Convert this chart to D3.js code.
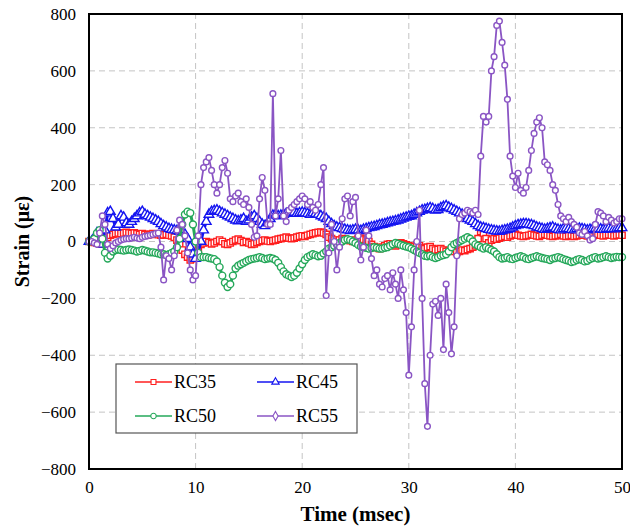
<!DOCTYPE html>
<html lang="en">
<head>
<meta charset="utf-8">
<script src="https://d3js.org/d3.v7.min.js"></script>
<style>
  body { margin: 0; background: #fff; }
  svg text { font-family: "Liberation Serif", "Times New Roman", Times, serif !important; fill: #000; }
</style>
</head>
<body>
<script>
// sampling times (msec), one reading every 0.25 ms
const time = d3.range(0, 50.001, 0.25);

const seriesNames = ["RC35", "RC45", "RC50", "RC55"];
const xTicks = [0, 10, 20, 30, 40, 50];
const yTicks = [-800, -600, -400, -200, 0, 200, 400, 600, 800];

// strain readings (micro-strain), 4 per msec
const rc35 = [
  0,0,-3,-5, -8,-5,5,15, 22,25,28,30, 28,30,32,30, 28,30,27,25,
  28,25,22,25, 28,26,24,22, 24,25,22,20, 15,5,-10,-30, -45,-55,-65,-60,
  -50,-30,-10,-5, 0,-3,-8,-5, 0,5,0,-8, -10,-5,0,5, 8,3,-3,0,
  -5,-10,-8,-3, 0,3,5,2, 0,3,5,8, 10,12,15,12, 10,12,15,18,
  20,18,22,25, 28,30,32,33, 30,25,15,10, 5,0,5,10, 8,5,3,0,
  5,10,12,8, 5,0,-10,-18, -22,-25,-20,-15, -10,-8,-12,-15, -10,-5,-8,-12,
  -15,-20,-18,-12, -15,-22,-25,-20, -18,-25,-30,-28, -25,-30,-35,-32, -30,-35,-38,-35,
  -30,-32,-28,-25, -20,-15,10,35, 30,10,-5,5, 10,8,12,15, 18,15,20,22,
  25,22,20,18, 20,22,25,22, 20,18,22,25, 22,20,18,20, 22,25,20,18,
  20,22,18,20, 22,25,22,20, 18,20,22,25, 22,20,22,24, 22,20,22,24,
  22
];
const rc45 = [
  0,0,5,30, 20,-10,40,100, 105,80,50,60, 90,85,65,60, 70,80,90,100,
  105,95,90,85, 80,75,70,62, 55,50,45,42, 40,38,35,30, 25,10,-20,-45,
  -60,-40,0,40, 70,95,105,108, 110,105,100,95, 90,85,80,75, 72,75,80,70,
  75,85,90,80, 70,60,55,65, 80,92,95,90, 92,95,98,100, 100,102,98,100,
  102,100,98,95, 100,98,95,90, 85,80,70,62, 55,50,48,45, 42,40,38,40,
  42,40,38,42, 45,48,50,52, 55,58,60,62, 65,68,70,72, 75,78,82,85,
  88,90,95,100, 105,110,112,115, 118,115,110,112, 118,122,125,120, 115,110,105,100,
  95,90,80,75, 70,62,55,50, 48,45,42,40, 38,36,35,38, 40,42,45,50,
  55,58,60,62, 62,60,58,55, 50,48,45,42, 45,48,50,45, 42,40,44,46,
  44,42,40,44, 46,44,42,40, 42,44,46,45, 43,42,44,46, 45,44,46,48,
  48
];
const rc50 = [
  0,2,10,30, 40,10,-40,-60, -50,-35,-30,-28, -30,-32,-30,-28, -30,-32,-35,-33,
  -30,-32,-35,-38, -38,-40,-42,-45, -45,-48,-45,-40, -35,-20,10,60, 95,105,100,60,
  0,-40,-55,-55, -55,-58,-60,-62, -70,-90,-120,-145, -160,-150,-120,-95, -85,-80,-75,-70,
  -65,-62,-60,-58, -55,-58,-62,-60, -58,-60,-65,-75, -90,-105,-115,-120, -125,-120,-110,-95,
  -80,-65,-55,-50, -45,-48,-52,-50, -42,-35,-25,-20, -15,-10,-5,0, 5,8,5,0,
  -5,-12,-18,-20, -22,-25,-23,-20, -22,-25,-25,-22, -20,-15,-10,-5, -8,-12,-15,-18,
  -20,-25,-30,-35, -40,-45,-50,-52, -50,-55,-58,-55, -50,-48,-45,-35, -20,-10,-5,0,
  5,10,15,10, 0,-10,-15,-20, -25,-20,-25,-30, -35,-45,-55,-60, -58,-55,-60,-62,
  -58,-55,-52,-55, -60,-62,-58,-55, -52,-55,-58,-60, -62,-65,-60,-58, -55,-58,-62,-65,
  -68,-72,-70,-65, -62,-65,-70,-68, -62,-58,-55,-60, -58,-55,-52,-55, -58,-56,-54,-55,
  -55
];
const rc55 = [
  0,0,-5,-10, 30,90,60,-10, -25,-15,-5,0, 5,8,10,10, 12,15,12,10,
  15,18,20,22, 25,28,30,-20, -135,-50,-60,-100, -50,40,75,60, 20,-40,-100,-135,
  -120,20,200,260, 280,295,250,200, 170,200,260,285, 240,150,140,160, 170,140,130,150,
  120,60,15,20, 150,225,180,60, 60,520,90,150, 320,90,70,110, 120,130,140,150,
  160,150,130,140, 120,110,130,200, 260,-190,-40,60, 0,-100,-20,80, 150,160,90,140,
  155,20,-65,-20, 40,20,-60,-120, -100,-150,-160,-130, -120,-170,-110,-150, -200,-100,-170,-250,
  -470,-300,-100,0, 110,-200,-500,-650, -400,-220,-210,-260, -200,-380,-150,-250, -395,-300,-50,80,
  95,100,110,105, 100,110,95,300, 440,420,440,600, 650,760,775,700, 620,500,300,230,
  190,240,180,170, 190,250,320,380, 420,435,400,280, 270,250,200,180, 130,90,80,70,
  85,70,60,50, 30,25,35,20, 5,10,60,105, 100,90,70,85, 75,65,70,80,
  80
];

const colors = ["#ff1f1f", "#1414f0", "#25a85a", "#8a55c4"];
const symbols = [d3.symbolSquare, d3.symbolTriangle, d3.symbolCircle, d3.symbolCircle];
const symSize = [40, 40, 38, 26];
const lineW = [3, 3, 3, 1.8];

const width = 630, height = 526;
const margin = {top: 14, right: 8, bottom: 57, left: 89};
const serif = "Liberation Serif";

const svg = d3.select("body").append("svg")
  .attr("width", width)
  .attr("height", height)
  .attr("font-family", serif);

const x = d3.scaleLinear().domain([0, 50]).range([margin.left, width - margin.right]);
const y = d3.scaleLinear().domain([-800, 800]).range([height - margin.bottom, margin.top]);

// grid
svg.append("g")
  .selectAll("line")
  .data(xTicks.slice(1, -1))
  .join("line")
    .attr("x1", d => x(d)).attr("x2", d => x(d))
    .attr("y1", y(-800)).attr("y2", y(800))
    .attr("stroke", "#c4c4c4")
    .attr("stroke-dasharray", "6,4");
svg.append("g")
  .selectAll("line")
  .data(yTicks.slice(1, -1))
  .join("line")
    .attr("x1", x(0)).attr("x2", x(50))
    .attr("y1", d => y(d)).attr("y2", d => y(d))
    .attr("stroke", "#c4c4c4")
    .attr("stroke-dasharray", "6,4");

// axes labels
const gy = svg.append("g")
  .attr("transform", `translate(${x(0)},0)`)
  .call(d3.axisLeft(y).tickValues(yTicks).tickSize(0).tickPadding(13))
  .attr("font-family", serif)
  .attr("font-size", 17);
gy.select(".domain").remove();

const gx = svg.append("g")
  .attr("transform", `translate(0,${y(-800)})`)
  .call(d3.axisBottom(x).tickValues(xTicks).tickSize(0).tickPadding(12))
  .attr("font-family", serif)
  .attr("font-size", 17);
gx.select(".domain").remove();

// series
const allSeries = [rc35, rc45, rc50, rc55];
const line = d3.line()
  .x((d, i) => x(time[i]))
  .y(d => y(d));

allSeries.forEach((vals, k) => {
  const g = svg.append("g");
  g.append("path")
    .datum(vals)
    .attr("d", line)
    .attr("fill", "none")
    .attr("stroke", colors[k])
    .attr("stroke-width", lineW[k]);
  g.selectAll("path.m")
    .data(vals)
    .join("path")
      .attr("class", "m")
      .attr("d", d3.symbol().type(symbols[k]).size(symSize[k]))
      .attr("transform", (d, i) => `translate(${x(time[i])},${y(d)})`)
      .attr("fill", "#fff")
      .attr("stroke", colors[k])
      .attr("stroke-width", 1.4);
});

// frame
svg.append("rect")
  .attr("x", x(0)).attr("y", y(800))
  .attr("width", x(50) - x(0))
  .attr("height", y(-800) - y(800))
  .attr("fill", "none")
  .attr("stroke", "#000")
  .attr("stroke-width", 2);

// axis titles
svg.append("text")
  .attr("x", (x(0) + x(50)) / 2)
  .attr("y", 521)
  .attr("text-anchor", "middle")
  .attr("font-size", 21)
  .attr("font-weight", "bold")
  .text("Time (msec)");

svg.append("text")
  .attr("transform", `translate(29,${y(0)}) rotate(-90)`)
  .attr("text-anchor", "middle")
  .attr("font-size", 20)
  .attr("font-weight", "bold")
  .text("Strain (με)");

// legend
const lg = svg.append("g");
lg.append("rect")
  .attr("x", 116).attr("y", 364)
  .attr("width", 241).attr("height", 69)
  .attr("fill", "#fff")
  .attr("stroke", "#555")
  .attr("stroke-width", 1.2);

const legendSymbols = [d3.symbolSquare, d3.symbolTriangle, d3.symbolCircle, d3.symbolDiamond];
seriesNames.forEach((name, k) => {
  const lx = 135 + (k % 2) * 122;
  const ly = 382 + Math.floor(k / 2) * 34;
  lg.append("line")
    .attr("x1", lx).attr("x2", lx + 37)
    .attr("y1", ly).attr("y2", ly)
    .attr("stroke", colors[k])
    .attr("stroke-width", 1.5);
  lg.append("path")
    .attr("d", d3.symbol().type(legendSymbols[k]).size(24))
    .attr("transform", `translate(${lx + 18.5},${ly})`)
    .attr("fill", "#fff")
    .attr("stroke", colors[k])
    .attr("stroke-width", 1.1);
  lg.append("text")
    .attr("x", lx + 39)
    .attr("y", ly)
    .attr("dy", "0.35em")
    .attr("font-size", 18)
    .text(name);
});
</script>
</body>
</html>
